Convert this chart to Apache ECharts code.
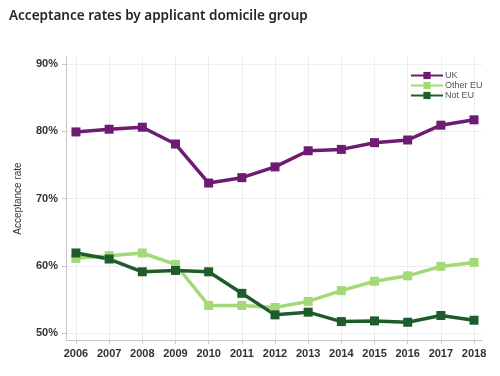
<!DOCTYPE html>
<html>
<head>
<meta charset="utf-8">
<script src="https://cdn.jsdelivr.net/npm/echarts@6/dist/echarts.min.js"></script>
<style>
  html, body { margin: 0; padding: 0; background: #fff; }
  #chart { width: 500px; height: 376px; }
</style>
</head>
<body>
<div id="chart"></div>
<script>
const years = [2006, 2007, 2008, 2009, 2010, 2011, 2012, 2013, 2014, 2015, 2016, 2017, 2018];
const uk = [79.9, 80.3, 80.6, 78.1, 72.3, 73.1, 74.7, 77.1, 77.3, 78.3, 78.7, 80.9, 81.7];
const otherEu = [61.1, 61.5, 61.9, 60.2, 54.1, 54.1, 53.8, 54.7, 56.3, 57.7, 58.5, 59.9, 60.5];
const notEu = [61.9, 61.0, 59.1, 59.3, 59.1, 55.9, 52.7, 53.1, 51.7, 51.8, 51.6, 52.6, 51.9];

const chart = echarts.init(document.getElementById('chart'), null, {renderer: 'canvas'});

function pairs(vals) {
    return years.map(function (y, i) { return [y, vals[i]]; });
}

function lineSeries(name, vals, color) {
    return {
        type: 'line',
        name: name,
        data: pairs(vals),
        symbol: 'rect',
        symbolSize: 9,
        lineStyle: {width: 3.5, color: color},
        itemStyle: {color: color},
        emphasis: {disabled: true}
    };
}

const option = {
    backgroundColor: '#ffffff',
    animation: false,
    textStyle: {fontFamily: 'Liberation Sans'},
    title: {
        text: 'Acceptance rates by applicant domicile group',
        left: 4,
        top: 4,
        textStyle: {fontFamily: 'Noto Sans', fontSize: 13.5, fontWeight: 600, color: '#262626'}
    },
    legend: {
        orient: 'vertical',
        left: 405,
        top: 66,
        itemGap: 1,
        itemWidth: 32,
        itemHeight: 9,
        textStyle: {fontSize: 9, color: '#555', padding: [0, 0, 0, -3]},
        data: ['UK', 'Other EU', 'Not EU']
    },
    grid: {left: 66, right: 18, top: 57, bottom: 36},
    xAxis: {
        type: 'value',
        min: 2005.7,
        max: 2018.24,
        splitNumber: 12,
        axisLine: {show: true, lineStyle: {color: '#c8c8c8'}},
        axisTick: {show: true, length: 4, lineStyle: {color: '#c8c8c8'}},
        axisLabel: {
            showMinLabel: false,
            showMaxLabel: false,
            color: '#333',
            fontSize: 11,
            fontWeight: 'bold',
            margin: 8,
            formatter: function (v) { return String(v); }
        },
        splitLine: {show: true, showMinLine: false, showMaxLine: false, lineStyle: {color: '#eeeeee'}}
    },
    yAxis: {
        type: 'value',
        min: 48.96,
        max: 91.04,
        splitNumber: 4,
        name: 'Acceptance rate',
        nameLocation: 'middle',
        nameGap: 43,
        nameTextStyle: {fontSize: 10, color: '#333'},
        axisLine: {show: true, lineStyle: {color: '#c8c8c8'}},
        axisTick: {show: true, length: 4, lineStyle: {color: '#c8c8c8'}},
        axisLabel: {
            showMinLabel: false,
            showMaxLabel: false,
            color: '#333',
            fontSize: 11,
            fontWeight: 'bold',
            margin: 8,
            formatter: function (v) { return v + '%'; }
        },
        splitLine: {show: true, showMinLine: false, showMaxLine: false, lineStyle: {color: '#eeeeee'}}
    },
    series: [
        lineSeries('UK', uk, '#6e1b72'),
        lineSeries('Other EU', otherEu, '#a3d977'),
        lineSeries('Not EU', notEu, '#1f5c2c')
    ]
};

chart.setOption(option);
</script>
</body>
</html>
